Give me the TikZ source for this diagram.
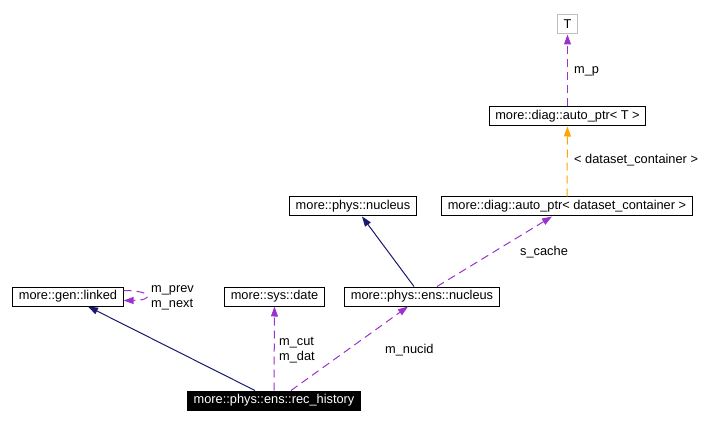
\documentclass[tikz,border=0pt]{standalone}
\usepackage{fontspec}
\setmainfont{Liberation Sans}
\usetikzlibrary{arrows.meta}
\definecolor{inhcol}{HTML}{191970}
\definecolor{usecol}{HTML}{9A32CD}
\definecolor{tplcol}{HTML}{FFA500}
\begin{document}
\begin{tikzpicture}[
  x=1pt, y=-1pt,
  every node/.style={font=\fontsize{12.8}{15.5}\selectfont, inner sep=0pt},
  cls/.style={draw, rectangle, minimum height=19pt, inner xsep=6pt, line width=1pt},
  lbl/.style={anchor=west, align=left},
  inh/.style={draw=inhcol, line width=1pt, -{Triangle[length=10pt,width=7pt,fill=inhcol]}},
  use/.style={draw=usecol, line width=1pt, dash pattern=on 8pt off 5pt, -{Triangle[length=10pt,width=7pt,fill=usecol]}},
  tpl/.style={draw=tplcol, line width=1pt, dash pattern=on 8pt off 5pt, -{Triangle[length=10pt,width=7pt,fill=tplcol]}}
]
  \useasboundingbox (0,0) rectangle (721,425);

  \node[cls, draw=black!25] (t)      at (567.5, 24.5)  {T};
  \node[cls] (apt)    at (567.5, 116.5) {more::diag::auto\_ptr< T >};
  \node[cls] (apdc)   at (567, 206.5)   {more::diag::auto\_ptr< dataset\_container >};
  \node[cls] (physn)  at (353, 206.5)   {more::phys::nucleus};
  \node[cls] (linked) at (68, 296.5)    {more::gen::linked};
  \node[cls] (date)   at (274.5, 296.5) {more::sys::date};
  \node[cls] (ensn)   at (422, 296.5)   {more::phys::ens::nucleus};
  \node[cls, fill=black, text=white] (rec) at (274, 400.5) {more::phys::ens::rec\_history};

  \node[lbl] (lmp)    at (574, 71)   {m\_p};
  \node[lbl] (ldc)    at (574, 160)  {< dataset\_container >};
  \node[lbl] (lcache) at (520, 252)  {s\_cache};
  \node[lbl] (lprev)  at (151, 298)  {m\_prev\\ m\_next};
  \node[lbl] (lcut)   at (279, 350)  {m\_cut\\ m\_dat};
  \node[lbl] (lnucid) at (385, 350)  {m\_nucid};

  \draw[inh] ([xshift=-19pt]rec.north) -- ([xshift=20pt]linked.south);
  \draw[use] (rec.north) -- (date.south);
  \draw[use] ([xshift=17pt]rec.north) -- ([xshift=-14pt]ensn.south);
  \draw[inh] ([xshift=-8pt]ensn.north) -- ([xshift=9pt]physn.south);
  \draw[use] ([xshift=15pt]ensn.north) -- ([xshift=-15pt]apdc.south);
  \draw[tpl] (apdc.north) -- (apt.south);
  \draw[use] (apt.north) -- (t.south);
  \draw[use] ([yshift=6pt]linked.east) .. controls +(30,0) and +(30,0) .. ([yshift=-4pt]linked.east);
\end{tikzpicture}
\end{document}
